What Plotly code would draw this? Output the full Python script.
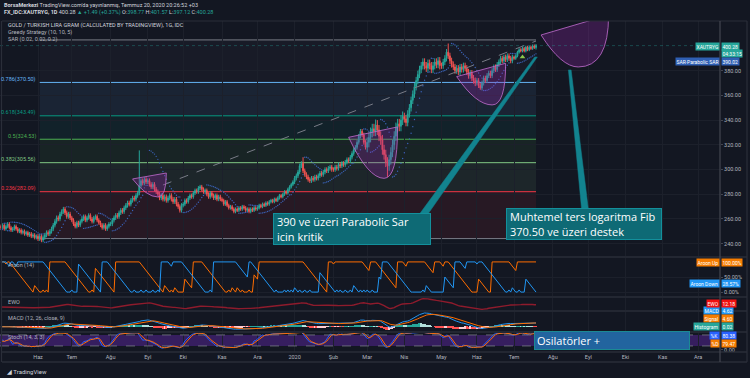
import numpy as np
import pandas as pd
import plotly.graph_objects as go

# ---------------- data ----------------
close_2019_05 = [253, 255, 252, 254, 256, 253, 251, 252, 254, 252, 250, 251, 249, 250, 248, 249, 247, 248, 246, 247, 245, 246]
close_2019_06 = [244, 246, 243, 245, 247, 249, 248, 250, 252, 255, 258, 261, 260, 264, 266, 268, 265, 262, 264, 261]
close_2019_07 = [259, 256, 254, 257, 255, 258, 260, 262, 259, 261, 263, 260, 258, 261, 262, 259, 257, 255, 253, 255, 252, 254, 256]
close_2019_08 = [256, 259, 261, 263, 262, 265, 267, 266, 269, 271, 273, 272, 275, 277, 276, 279, 281, 287, 291, 289, 292, 290]
close_2019_09 = [291, 288, 286, 288, 284, 282, 280, 277, 279, 276, 278, 275, 277, 279, 276, 274, 276, 272, 270, 267, 271]
close_2019_10 = [272, 275, 274, 277, 279, 278, 281, 283, 282, 285, 286, 284, 282, 283, 280, 278, 281, 279, 277, 279, 276, 278, 276]
close_2019_11 = [275, 272, 274, 271, 269, 270, 268, 266, 268, 267, 269, 268, 270, 269, 267, 268, 266, 268, 267, 269, 268]
close_2019_12 = [269, 271, 270, 272, 271, 273, 272, 274, 275, 274, 276, 275, 277, 279, 278, 280, 282, 281, 284, 286, 288, 290]
close_2020_01 = [293, 295, 298, 303, 305, 299, 296, 294, 292, 291, 293, 292, 294, 293, 295, 297, 296, 298, 300, 299, 301, 302, 300]
close_2020_02 = [300, 302, 301, 304, 303, 305, 304, 306, 308, 307, 310, 313, 316, 318, 322, 327, 331, 328, 322, 318]
close_2020_03 = [322, 326, 330, 333, 331, 336, 332, 327, 324, 316, 312, 306, 303, 308, 314, 320, 327, 334, 337, 335, 340, 343]
close_2020_04 = [341, 338, 345, 350, 356, 361, 367, 372, 377, 381, 384, 387, 384, 382, 386, 384, 381, 384, 387, 385, 388, 384]
close_2020_05 = [384, 387, 390, 395, 392, 388, 385, 383, 380, 382, 379, 383, 381, 384, 382, 379, 376, 378, 374, 372, 370]
close_2020_06 = [372, 368, 366, 370, 374, 372, 376, 378, 376, 380, 383, 381, 385, 387, 390, 388, 391, 389, 392, 390, 388, 391]
close_2020_07 = [390, 392, 395, 397, 396, 398, 396, 399, 397, 399, 398, 400, 398.77, 400.28]
first_open = 254.0
wick_by_month = [1.5, 1.8, 1.6, 1.8, 1.8, 1.6, 1.4, 1.3, 1.8, 1.8, 4.0, 3.0, 2.5, 2.0, 1.2]
high_overrides = {"2019-08-26": 315.5, "2020-01-08": 310.0, "2020-03-09": 340.5,
                  "2020-05-07": 402.0, "2020-07-20": 401.57}
low_overrides = {"2020-03-18": 294.0, "2020-06-03": 364.5, "2020-07-20": 397.12}

fib_levels = [0, 0.236, 0.382, 0.5, 0.618, 0.786, 1]
fib_prices = [244.15, 282.09, 305.56, 324.53, 343.49, 370.50, 404.90]
fib_colors = ["#787b86", "#f23645", "#81c784", "#4caf50", "#089981", "#64b5f6", "#787b86"]
fib_span = ["2019-06-04", "2020-07-20"]

month_starts = ["2019-06", "2019-07", "2019-08", "2019-09", "2019-10", "2019-11", "2019-12",
                "2020-01", "2020-02", "2020-03", "2020-04", "2020-05", "2020-06", "2020-07",
                "2020-08", "2020-09", "2020-10", "2020-11", "2020-12"]
month_labels = ["Haz", "Tem", "Ağu", "Eyl", "Eki", "Kas", "Ara", "2020", "Şub", "Mar", "Nis",
                "May", "Haz", "Tem", "Ağu", "Eyl", "Eki", "Kas", "Ara"]
price_ticks = [240, 260, 280, 300, 320, 340, 360, 380]

trend_line = [("2019-09-13", 287.5), ("2020-07-20", 404.0)]
# purple curve drawings: (left-top, bottom, right-top)
cups = [
    [("2019-08-20", 292.4), ("2019-09-10", 277.8), ("2019-09-17", 297.2)],
    [("2020-02-14", 326.1), ("2020-03-16", 292.9), ("2020-03-26", 334.5)],
    [("2020-05-14", 375.2), ("2020-06-12", 352.3), ("2020-06-24", 386.0)],
    [("2020-07-23", 408.9), ("2020-08-24", 383.0), ("2020-09-17", 425.0)],
]
callouts = [
    dict(text="390 ve üzeri Parabolic Sar<br>için kritik", at=("2019-12-13", 264.9), w=150,
         base=("2020-04-14", "2020-04-21", 264.0), tip=("2020-07-20", 391.1)),
    dict(text="Muhtemel ters logaritma Fib<br>370.50 ve üzeri destek", at=("2020-06-24", 268.9), w=148,
         base=("2020-08-26", "2020-09-01", 268.0), tip=("2020-08-17", 380.6)),
]
greedy_signal = ("2020-07-08", 391.0)

# ---------------- build series ----------------
monthly = [close_2019_05, close_2019_06, close_2019_07, close_2019_08, close_2019_09, close_2019_10,
           close_2019_11, close_2019_12, close_2020_01, close_2020_02, close_2020_03, close_2020_04,
           close_2020_05, close_2020_06, close_2020_07]
close = np.array(sum(monthly, []), dtype=float)
n = len(close)
all_days = pd.bdate_range("2019-05-02", "2020-12-31")


def bi(d):
    return int(all_days.searchsorted(pd.Timestamp(d)))


xi = np.arange(n)
opn = np.r_[first_open, close[:-1]]
wick = np.concatenate([[w] * len(m) for w, m in zip(wick_by_month, monthly)])
high = np.maximum(opn, close) + wick
low = np.minimum(opn, close) - wick
for d, v in high_overrides.items():
    high[bi(d)] = v
for d, v in low_overrides.items():
    low[bi(d)] = v

s = pd.Series(close)
H = pd.Series(high)
L = pd.Series(low)


def ema(series, k):
    return series.ewm(span=k, adjust=False).mean()


macd = ema(s, 12) - ema(s, 26)
signal = ema(macd, 9)
hist = macd - signal
ewo = s.rolling(5, min_periods=1).mean() - s.rolling(35, min_periods=1).mean()
hh = H.rolling(14, min_periods=1).max()
ll = L.rolling(14, min_periods=1).min()
kraw = 100 * (s - ll) / (hh - ll)
K = kraw.rolling(3, min_periods=1).mean()
D = K.rolling(3, min_periods=1).mean()

aru, ard = [], []
for i in range(n):
    a = max(0, i - 14)
    wh = high[a:i + 1]
    wl = low[a:i + 1]
    jh = len(wh) - 1 - int(np.argmax(wh[::-1]))
    jl = len(wl) - 1 - int(np.argmin(wl[::-1]))
    aru.append(100 * (14 - (len(wh) - 1 - jh)) / 14)
    ard.append(100 * (14 - (len(wl) - 1 - jl)) / 14)


def psar(hi, lo, start=0.02, inc=0.02, mx=0.2):
    m = len(hi)
    out = np.zeros(m)
    up = True
    af = start
    ep = hi[0]
    out[0] = lo[0]
    for i in range(1, m):
        sv = out[i - 1] + af * (ep - out[i - 1])
        if up:
            sv = min(sv, lo[i - 1], lo[max(i - 2, 0)])
            if lo[i] < sv:
                up, sv, ep, af = False, ep, lo[i], start
            elif hi[i] > ep:
                ep, af = hi[i], min(af + inc, mx)
        else:
            sv = max(sv, hi[i - 1], hi[max(i - 2, 0)])
            if hi[i] > sv:
                up, sv, ep, af = True, ep, hi[i], start
            elif lo[i] < ep:
                ep, af = lo[i], min(af + inc, mx)
        out[i] = sv
    return out


sar = psar(high, low)

# ---------------- layout helpers ----------------
W, Hh = 750, 378
mt, mb, mr = 21, 26, 30
PH = Hh - mt - mb  # plot height in px


def py(ypx):
    return (Hh - mb - ypx) / PH


def px(xpx):
    return xpx / (W - mr)


BG = "#131722"
TXT = "#b2b5be"
GRID = "#1c202b"
SEP = "#2a2e39"
FONT = "Roboto"
SMALL = 5.5

month_idx = [bi(m + "-01") for m in month_starts]
xrange_ = [-0.53, 426.0]

fig = go.Figure()

# price pane
fig.add_trace(go.Candlestick(
    x=xi, open=opn, high=high, low=low, close=close,
    increasing=dict(line=dict(color="#26a69a", width=1), fillcolor="#26a69a"),
    decreasing=dict(line=dict(color="#ef5350", width=1), fillcolor="#ef5350"),
    whiskerwidth=0, xaxis="x", yaxis="y", showlegend=False, hoverinfo="skip"))
fig.add_trace(go.Scatter(x=xi, y=sar, mode="markers", marker=dict(size=1.4, color="#3a62b8"),
                         xaxis="x", yaxis="y", showlegend=False, hoverinfo="skip"))
fig.add_trace(go.Scatter(x=[bi(greedy_signal[0])], y=[greedy_signal[1]], mode="markers",
                         marker=dict(symbol="triangle-up", size=5, color="#8bc34a"),
                         xaxis="x", yaxis="y", showlegend=False, hoverinfo="skip"))

# aroon pane
fig.add_trace(go.Scatter(x=xi, y=aru, mode="lines", line=dict(color="#ff6d00", width=1),
                         xaxis="x2", yaxis="y2", showlegend=False, hoverinfo="skip"))
fig.add_trace(go.Scatter(x=xi, y=ard, mode="lines", line=dict(color="#2196f3", width=1),
                         xaxis="x2", yaxis="y2", showlegend=False, hoverinfo="skip"))
# ewo pane
fig.add_trace(go.Scatter(x=xi, y=ewo, mode="lines", line=dict(color="#8e1b2c", width=1.4),
                         xaxis="x3", yaxis="y3", showlegend=False, hoverinfo="skip"))
# macd pane
hcol = []
for i in range(n):
    prev = hist.iloc[i - 1] if i > 0 else 0
    h = hist.iloc[i]
    if h >= 0:
        hcol.append("#26a69a" if h >= prev else "#b2dfdb")
    else:
        hcol.append("#ff5252" if h < prev else "#ffcdd2")
fig.add_trace(go.Bar(x=xi, y=hist, marker=dict(color=hcol, line=dict(width=0)), width=0.7,
                     xaxis="x4", yaxis="y4", showlegend=False, hoverinfo="skip"))
fig.add_trace(go.Scatter(x=xi, y=macd, mode="lines", line=dict(color="#2196f3", width=1),
                         xaxis="x4", yaxis="y4", showlegend=False, hoverinfo="skip"))
fig.add_trace(go.Scatter(x=xi, y=signal, mode="lines", line=dict(color="#ff6d00", width=1),
                         xaxis="x4", yaxis="y4", showlegend=False, hoverinfo="skip"))
# stoch pane
fig.add_trace(go.Scatter(x=xi, y=K, mode="lines", line=dict(color="#2962ff", width=1),
                         xaxis="x5", yaxis="y5", showlegend=False, hoverinfo="skip"))
fig.add_trace(go.Scatter(x=xi, y=D, mode="lines", line=dict(color="#ff6d00", width=1),
                         xaxis="x5", yaxis="y5", showlegend=False, hoverinfo="skip"))

shapes = []
ann = []

# fib retracement
f0, f1 = bi(fib_span[0]), bi(fib_span[1])


def rgba(hexc, a):
    hexc = hexc.lstrip("#")
    r, g, b = int(hexc[0:2], 16), int(hexc[2:4], 16), int(hexc[4:6], 16)
    return f"rgba({r},{g},{b},{a})"


for k in range(1, len(fib_prices)):
    shapes.append(dict(type="rect", xref="x", yref="y", x0=f0, x1=f1, y0=fib_prices[k - 1],
                       y1=fib_prices[k], fillcolor=rgba(fib_colors[k], 0.09 if k < 6 else 0.05),
                       line=dict(width=0), layer="below"))
for k, (lv, pr, col) in enumerate(zip(fib_levels, fib_prices, fib_colors)):
    shapes.append(dict(type="line", xref="x", yref="y", x0=f0, x1=f1, y0=pr, y1=pr,
                       line=dict(color=col, width=1), layer="below"))
    if 0 < lv < 1:
        ann.append(dict(x=f0, y=pr, xref="x", yref="y", text=f"{lv}({pr:.2f})", showarrow=False,
                        xanchor="right", yanchor="middle", xshift=-2, yshift=3,
                        font=dict(size=SMALL, color=col, family=FONT)))

# trend line
shapes.append(dict(type="line", xref="x", yref="y", x0=bi(trend_line[0][0]), y0=trend_line[0][1],
                   x1=bi(trend_line[1][0]), y1=trend_line[1][1],
                   line=dict(color="#787b86", width=1, dash="dash")))

# purple curves
for (a, c, b) in cups:
    ax, ay = bi(a[0]), a[1]
    cx, cy = bi(c[0]), c[1]
    bx, by = bi(b[0]), b[1]
    k1x = ax + 0.55 * (cx - ax)
    path = f"M {ax},{ay} Q {k1x},{cy} {cx},{cy} Q {bx},{cy} {bx},{by} Z"
    shapes.append(dict(type="path", xref="x", yref="y", path=path,
                       fillcolor="rgba(156,39,176,0.28)", line=dict(color="rgba(186,104,200,0.85)", width=1)))

# callouts
for co in callouts:
    b0, b1, by = bi(co["base"][0]), bi(co["base"][1]), co["base"][2]
    tx, ty = bi(co["tip"][0]), co["tip"][1]
    path = f"M {b0},{by} L {b1},{by} L {tx + 0.8},{ty} L {tx - 0.8},{ty} Z"
    shapes.append(dict(type="path", xref="x", yref="y", path=path, fillcolor="#12838f",
                       line=dict(color="#12838f", width=0.5)))
    ann.append(dict(x=bi(co["at"][0]), y=co["at"][1], xref="x", yref="y", text=co["text"],
                    showarrow=False, xanchor="left", yanchor="top", align="left", width=co["w"],
                    height=24, valign="middle", bgcolor="#0e6a75", bordercolor="#13909c", borderwidth=1,
                    borderpad=3, font=dict(size=11, color="#ffffff", family="Open Sans")))

# last price line
shapes.append(dict(type="line", xref="paper", yref="y", x0=0, x1=1, y0=close[-1], y1=close[-1],
                   line=dict(color="rgba(38,166,154,0.35)", width=1, dash="dot")))

# stoch band
shapes.append(dict(type="rect", xref="paper", yref="y5", x0=0, x1=1, y0=20, y1=80,
                   fillcolor="rgba(103,40,180,0.42)", line=dict(width=0), layer="below"))
for lvl in (20, 80):
    shapes.append(dict(type="line", xref="paper", yref="y5", x0=0, x1=1, y0=lvl, y1=lvl,
                       line=dict(color="#787b86", width=0.8, dash="dash")))

# Osilatörler box
ann.append(dict(x=bi("2020-07-17"), y=py(331), xref="x", yref="paper", text="Osilatörler +",
                showarrow=False, xanchor="left", yanchor="top", align="left", width=150, height=13,
                bgcolor="#22649f", bordercolor="#1b8a93", borderwidth=1, borderpad=2,
                font=dict(size=11, color="#ffffff", family="Open Sans")))

# pane separators / frame
for ypx in (257, 297, 311, 332, 352, 362):
    shapes.append(dict(type="line", xref="paper", yref="paper", x0=px(2), x1=px(747),
                       y0=py(ypx), y1=py(ypx), line=dict(color=SEP, width=1.5)))
shapes.append(dict(type="line", xref="paper", yref="paper", x0=px(2), x1=px(747), y0=py(21), y1=py(21),
                   line=dict(color=SEP, width=1.2)))
for xpx in (1.5, 720, 747):
    shapes.append(dict(type="line", xref="paper", yref="paper", x0=px(xpx), x1=px(xpx),
                       y0=py(21), y1=py(362), line=dict(color=SEP if xpx != 720 else "#434651", width=1.2)))

# header
ann.append(dict(x=px(2), y=py(5), xref="paper", yref="paper", xanchor="left", yanchor="middle",
                showarrow=False, align="left",
                text="<b>BorsaMerkezi</b> TradingView.com'da yayınlanmış, Temmuz 20, 2020 20:26:52 +03",
                font=dict(size=SMALL, color="#d1d4dc", family=FONT)))
ann.append(dict(x=px(2), y=py(13), xref="paper", yref="paper", xanchor="left", yanchor="middle",
                showarrow=False, align="left",
                text=("<b>FX_IDC:XAUTRYG, 1D</b> 400.28 <span style='color:#26a69a'>▲ +1.49 (+0.37%)</span>"
                      " O:<span style='color:#26a69a'>398.77</span> H:<span style='color:#26a69a'>401.57</span>"
                      " L:<span style='color:#26a69a'>397.12</span> C:<span style='color:#26a69a'>400.28</span>"),
                font=dict(size=SMALL, color="#d1d4dc", family=FONT)))
# legend
for t, ypx, col in [("GOLD / TURKISH LIRA GRAM (CALCULATED BY TRADINGVIEW), 1G, IDC", 25, "#d1d4dc"),
                    ("Greedy Strategy (10, 10, 5)", 32.5, TXT), ("SAR (0.02, 0.02, 0.2)", 39.5, TXT)]:
    ann.append(dict(x=px(6), y=py(ypx), xref="paper", yref="paper", xanchor="left", yanchor="middle",
                    showarrow=False, text=t, font=dict(size=SMALL, color=col, family=FONT)))
# pane labels
for t, ypx in [("Aroon (14)", 265), ("EWO", 302), ("MACD (12, 26, close, 9)", 318), ("Stoch (14, 3, 3)", 337)]:
    ann.append(dict(x=px(6), y=py(ypx), xref="paper", yref="paper", xanchor="left", yanchor="middle",
                    showarrow=False, text=t, font=dict(size=SMALL, color=TXT, family=FONT)))
# footer logo
ann.append(dict(x=px(4), y=py(371), xref="paper", yref="paper", xanchor="left", yanchor="middle",
                showarrow=False, text="<b>◢</b> TradingView", font=dict(size=6, color="#d1d4dc", family=FONT)))


def rlabel(name, value, ypx, color):
    if name:
        ann.append(dict(x=1, y=py(ypx), xref="paper", yref="paper", xanchor="right", yanchor="middle",
                        showarrow=False, text=name, bgcolor=color, borderpad=0.5,
                        font=dict(size=5, color="#ffffff", family=FONT)))
    ann.append(dict(x=1, y=py(ypx), xref="paper", yref="paper", xanchor="left", yanchor="middle",
                    showarrow=False, text=value, bgcolor=color, borderpad=0.5, xshift=1,
                    font=dict(size=5, color="#ffffff", family=FONT)))


rlabel("XAUTRYG", "400.28", 46, "#26a69a")
rlabel(None, "04:33:15", 53.5, "#26a69a")
rlabel("SAR·Parabolic SAR", "390.02", 61.5, "#2f5fb3")
rlabel("Aroon Up", "100.00%", 262, "#f57c00")
rlabel("Aroon Down", "28.57%", 283, "#2196f3")
rlabel("MACD", "4.62", 310, "#2196f3")
rlabel("EWO", "12.18", 303, "#f01010")
rlabel("Signal", "4.60", 318, "#f57c00")
rlabel("Histogram", "0.02", 326, "#26a69a")
rlabel("%K", "80.38", 335, "#2962ff")
rlabel("%D", "79.47", 343, "#f57c00")

axis_common = dict(showline=False, zeroline=False, gridcolor=GRID, gridwidth=1)
xa = dict(range=xrange_, tickmode="array", tickvals=month_idx, ticktext=month_labels,
          showticklabels=False, showgrid=True, **axis_common)
ya_font = dict(size=SMALL, color=TXT, family=FONT)

fig.update_layout(
    width=W, height=Hh, margin=dict(l=0, r=mr, t=mt, b=mb),
    paper_bgcolor=BG, plot_bgcolor=BG, showlegend=False, bargap=0,
    xaxis=dict(anchor="y", domain=[0, 1], rangeslider=dict(visible=False), **xa),
    xaxis2=dict(anchor="y2", matches="x", **xa),
    xaxis3=dict(anchor="y3", matches="x", **xa),
    xaxis4=dict(anchor="y4", matches="x", **xa),
    xaxis5=dict(anchor="y5", matches="x", **{**xa, "showticklabels": True},
                tickfont=dict(size=SMALL, color=TXT, family=FONT)),
    yaxis=dict(domain=[py(256), py(21)], anchor="x", side="right", range=[230.05, 420.2],
               tickmode="array", tickvals=price_ticks, ticktext=[f"{v:.2f}" for v in price_ticks],
               ticks="outside", ticklen=2, tickcolor="#434651", tickfont=ya_font, showgrid=True, **axis_common),
    yaxis2=dict(domain=[py(296), py(258)], anchor="x2", side="right", range=[-13, 113],
                tickmode="array", tickvals=[0, 50], ticktext=["0.00%", "50.00%"], ticks="outside",
                ticklen=2, tickcolor="#434651", tickfont=ya_font, showgrid=True, **axis_common),
    yaxis3=dict(domain=[py(310), py(298)], anchor="x3", side="right", showticklabels=False,
                showgrid=False, **axis_common),
    yaxis4=dict(domain=[py(331), py(312)], anchor="x4", side="right", showticklabels=False,
                showgrid=False, **axis_common),
    yaxis5=dict(domain=[py(352), py(333)], anchor="x5", side="right", range=[-13.1, 90.6],
                tickmode="array", tickvals=[0], ticktext=["0.00"], ticks="outside", ticklen=2,
                tickcolor="#434651", tickfont=ya_font, showgrid=False, **axis_common),
    shapes=shapes, annotations=ann,
)

fig.write_html("out.html", config={"displayModeBar": False},
               post_script="document.body.style.margin='0';document.body.style.overflow='hidden';")
